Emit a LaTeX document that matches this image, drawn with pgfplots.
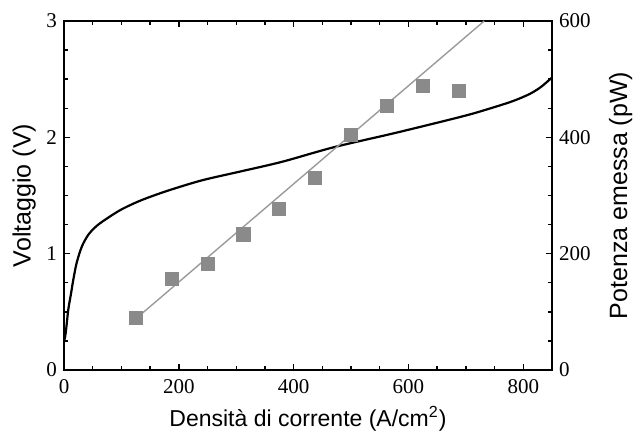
\documentclass[border=0pt]{standalone}
\usepackage{fontspec}
\setmainfont{Liberation Serif}
\setsansfont{Liberation Sans}
\usepackage{pgfplots}
\pgfplotsset{compat=1.18}
\definecolor{sqgray}{HTML}{8A8A8A}
\definecolor{lngray}{HTML}{9A9A9A}
\begin{document}
\begin{tikzpicture}
\useasboundingbox (-32pt,-31pt) rectangle (288.5pt,185pt);
\pgfplotsset{
  every axis/.append style={
    scale only axis, width=244pt, height=174.5pt,
    at={(0,0)}, anchor=south west,
    tick align=inside,
    major tick length=3.2pt, minor tick length=1.8pt,
    every tick/.style={black, line width=0.7pt},
    axis line style={line width=0.75pt},
    /pgf/number format/assume math mode=true,
    tick label style={font=\fontsize{10.5}{12}\selectfont},
  }
}
\begin{axis}[
  xmin=0, xmax=850, ymin=0, ymax=3,
  xtick={0,200,400,600,800}, minor xtick={50,100,...,850},
  ytick={0,1,2,3}, minor ytick={0.25,0.5,...,3},
  ytick pos=left, xtick pos=both, xticklabel pos=lower,
  xlabel={Densità di corrente (A/cm\textsuperscript{2})},
  ylabel={Voltaggio (V)},
  xlabel style={font=\sffamily\fontsize{11.5}{13}\selectfont, at={(axis description cs:0.5,0)}, anchor=north, yshift=-14.5pt},
  ylabel style={font=\sffamily\fontsize{12.5}{14}\selectfont, at={(axis description cs:0,0.5)}, anchor=south, yshift=10.5pt},
  xticklabel style={yshift=-1pt},
]
\addplot[black, line width=1.1pt, smooth, tension=0.5] coordinates {
(0,0.24) (3,0.32) (7.5,0.52) (12,0.65) (16,0.77) (22,0.92) (31,1.06) (42,1.16)
(55,1.23) (71,1.29) (100,1.38) (135,1.46) (180,1.54) (240,1.63) (306,1.705)
(380,1.79) (470,1.915) (579,2.04) (694,2.18) (740,2.245) (781,2.31) (810,2.37)
(830,2.43) (849,2.51)
};
\end{axis}
\begin{axis}[
  xmin=0, xmax=850, ymin=0, ymax=600,
  hide x axis, axis y line*=right,
  ytick={0,200,400,600}, minor ytick={50,100,...,600},
  ylabel={Potenza emessa (pW)},
  ylabel style={font=\sffamily\fontsize{12.5}{14}\selectfont, at={(axis description cs:1,0.5)}, anchor=north, yshift=-25pt},
]
\addplot[lngray, line width=0.7pt] coordinates {(125,88) (732,600)};
\addplot[only marks, mark=square*, mark size=3.3pt, mark options={fill=sqgray, draw=sqgray}] coordinates {
(125,90) (187.5,157) (250,183) (312.5,233) (375,277) (437.5,330) (500,404) (562.5,454) (625,489) (687.5,480)
};
\end{axis}
\end{tikzpicture}
\end{document}
